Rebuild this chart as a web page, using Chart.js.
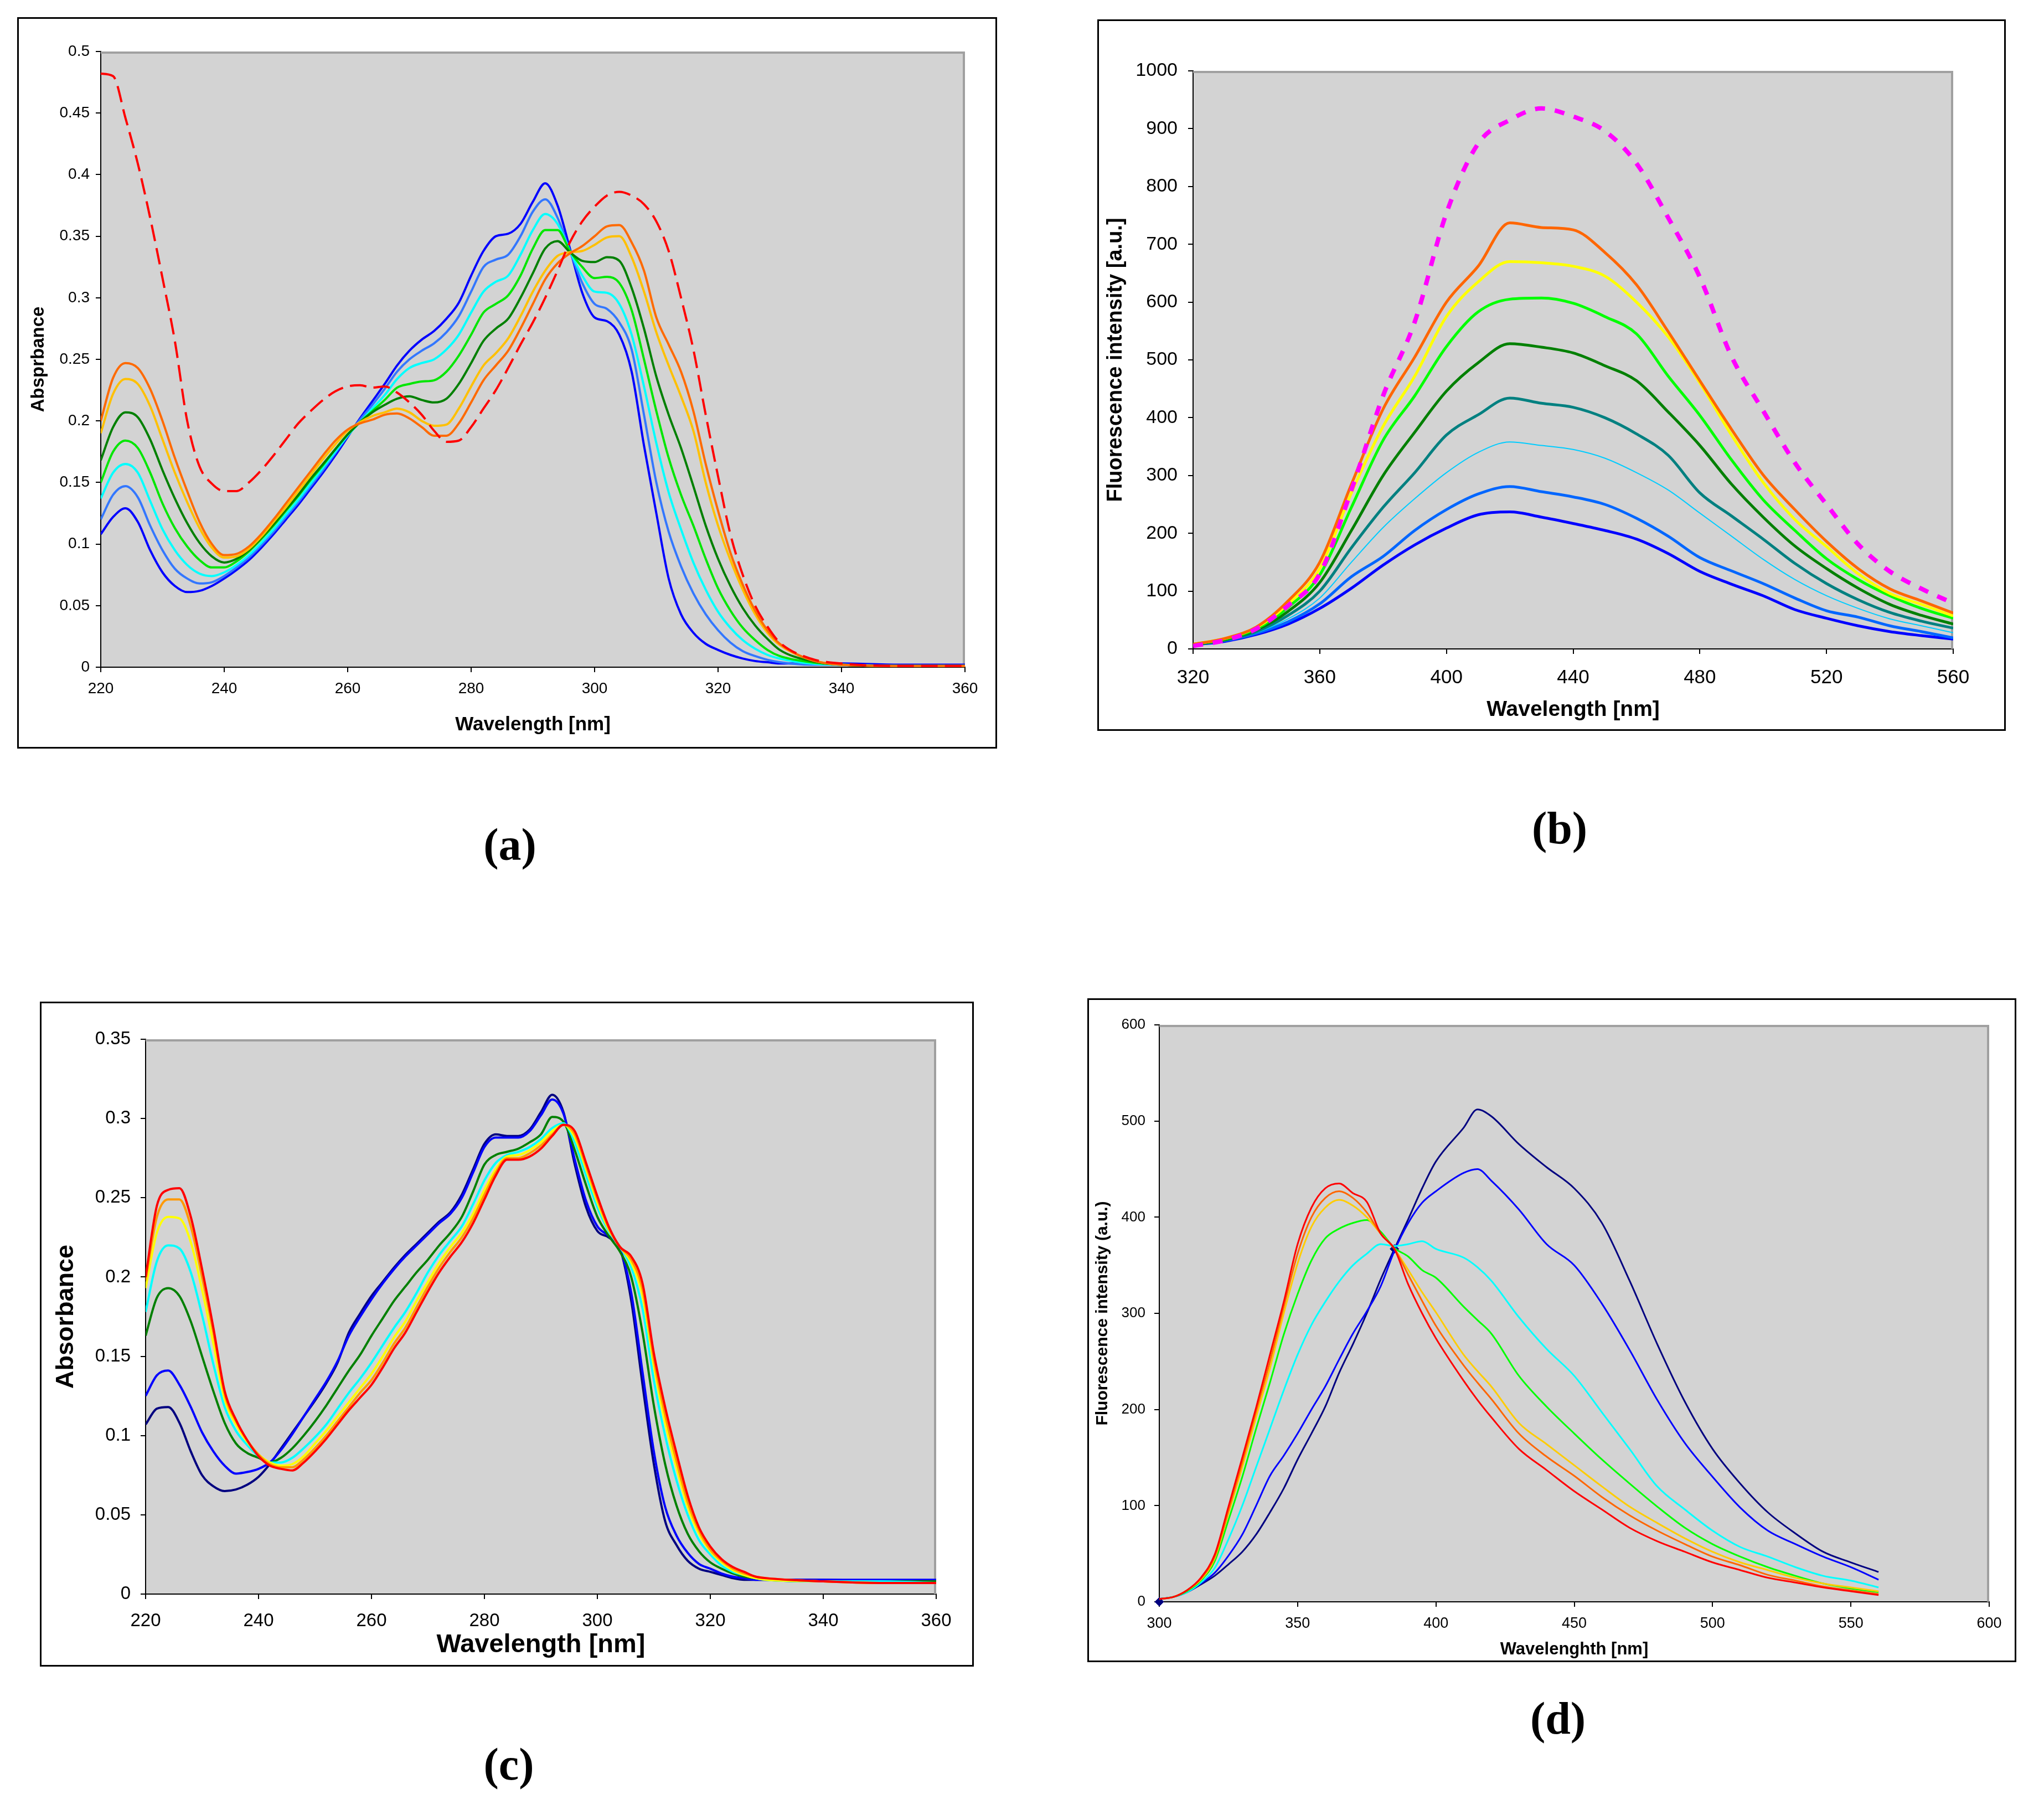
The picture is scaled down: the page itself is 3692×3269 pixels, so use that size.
<!DOCTYPE html>
<html>
<head>
<meta charset="utf-8">
<script src="https://cdn.jsdelivr.net/npm/chart.js@4.4.1/dist/chart.umd.min.js"></script>
<style>
  body { margin: 0; background: #fff; width: 3692px; height: 3269px; position: relative; overflow: hidden; }
  .panel { position: absolute; }
  .tag { position: absolute; font: bold 82px "Liberation Serif", serif; line-height: 1; transform: translate(-50%, -50%); color: #000; }
</style>
</head>
<body>
<div class="panel" style="left:31px;top:31px"><canvas id="chartA"></canvas></div>
<div class="panel" style="left:1982px;top:35px"><canvas id="chartB"></canvas></div>
<div class="panel" style="left:72px;top:1809px"><canvas id="chartC"></canvas></div>
<div class="panel" style="left:1964px;top:1803px"><canvas id="chartD"></canvas></div>
<div class="tag" style="left:921px;top:1526px">(a)</div>
<div class="tag" style="left:2817px;top:1496px">(b)</div>
<div class="tag" style="left:919px;top:3187px">(c)</div>
<div class="tag" style="left:2814px;top:3104px">(d)</div>
<script>
// (a) absorbance, 220-360 nm
const aWl = [220,222,224,226,228,230,232,234,236,238,240,242,244,246,248,250,252,254,256,258,
  260,262,264,266,268,270,272,274,276,278,280,282,284,286,288,290,292,294,296,298,
  300,302,304,306,308,310,312,314,316,318,320,322,324,326,328,330,335,340,350,360];
const aBlue = [.108,.122,.129,.118,.095,.077,.066,.061,.062,.066,.072,.079,.087,.097,.108,.120,.132,.145,.158,.172,
  .187,.202,.216,.230,.245,.257,.266,.273,.283,.296,.318,.338,.350,.352,.360,.378,.393,.375,.340,.304,
  .284,.281,.270,.240,.180,.125,.072,.043,.028,.019,.014,.010,.007,.005,.004,.003,.003,.003,.002,.002];
const aLightBlue = [.120,.140,.147,.138,.115,.095,.080,.072,.068,.069,.074,.081,.089,.099,.110,.122,.134,.147,.160,.174,
  .188,.201,.213,.226,.240,.250,.257,.263,.272,.285,.305,.325,.331,.335,.350,.370,.380,.365,.338,.312,
  .295,.291,.280,.258,.205,.150,.110,.082,.060,.043,.030,.020,.013,.009,.006,.004,.002,.002,.001,.001];
const aCyan = [.137,.158,.165,.158,.135,.112,.095,.083,.076,.074,.077,.083,.091,.101,.112,.124,.136,.149,.162,.175,
  .188,.199,.210,.221,.234,.243,.247,.250,.258,.270,.288,.305,.313,.318,.335,.355,.368,.360,.338,.318,
  .305,.304,.295,.270,.228,.182,.142,.112,.085,.063,.045,.032,.022,.015,.010,.007,.003,.002,.001,.001];
const aGreen = [.150,.175,.184,.178,.158,.133,.113,.098,.087,.081,.081,.086,.094,.104,.115,.127,.139,.152,.164,.177,
  .189,.199,.208,.217,.227,.230,.232,.233,.240,.253,.270,.288,.295,.302,.318,.340,.355,.355,.338,.325,
  .316,.317,.312,.290,.250,.208,.170,.140,.115,.088,.064,.046,.032,.022,.014,.009,.004,.002,.001,.001];
const aDarkGreen = [.168,.195,.207,.203,.185,.160,.137,.117,.101,.090,.085,.088,.095,.105,.116,.128,.140,.153,.165,.177,
  .189,.199,.207,.213,.218,.220,.217,.215,.218,.230,.247,.265,.275,.283,.300,.320,.340,.346,.337,.330,
  .329,.333,.330,.308,.275,.236,.205,.178,.147,.115,.088,.066,.048,.034,.023,.014,.005,.002,.001,.001];
const aAmber = [.190,.222,.234,.230,.212,.185,.158,.134,.113,.097,.089,.090,.096,.106,.118,.130,.143,.156,.169,.181,
  .192,.199,.204,.207,.210,.207,.200,.196,.197,.210,.228,.245,.255,.267,.285,.305,.322,.334,.337,.338,
  .343,.349,.350,.333,.305,.272,.245,.220,.192,.150,.115,.087,.063,.043,.028,.018,.006,.002,.001,.001];
const aOrange = [.200,.235,.247,.243,.226,.200,.170,.143,.118,.100,.091,.092,.098,.108,.120,.133,.146,.159,.172,.184,
  .193,.198,.201,.205,.206,.202,.195,.188,.188,.198,.215,.233,.245,.257,.275,.295,.315,.328,.336,.342,
  .350,.358,.359,.345,.322,.284,.262,.240,.208,.165,.127,.093,.067,.046,.030,.019,.006,.002,.001,.001];
const aRed = [.482,.480,.446,.409,.365,.316,.265,.200,.163,.149,.143,.143,.150,.160,.172,.185,.198,.208,.217,.224,
  .228,.229,.227,.228,.223,.215,.205,.192,.183,.184,.195,.210,.225,.243,.262,.280,.300,.322,.345,.362,
  .374,.383,.386,.383,.376,.362,.338,.300,.258,.205,.155,.108,.075,.050,.033,.020,.007,.003,.001,.001];

// (b) fluorescence, 320-560 nm
const bWl = [320,330,340,350,360,370,380,390,400,410,420,430,440,450,460,470,480,490,500,510,520,530,540,550,560];
const bPink = [5,15,35,75,130,275,438,566,754,874,915,935,921,896,840,746,643,506,412,322,250,181,134,104,79];
const bOrange = [8,18,38,83,150,285,415,505,600,662,737,729,725,686,630,549,464,380,301,241,186,139,104,83,62];
const bYellow = [8,18,37,78,139,270,385,472,575,635,670,668,662,645,600,540,460,370,288,224,177,130,96,77,57];
const bGreen = [8,17,35,72,128,245,361,438,523,583,605,607,598,575,545,472,404,327,258,205,156,120,92,70,53];
const bDarkGreen = [8,16,33,65,115,205,300,375,446,495,528,522,512,490,464,410,352,285,228,178,139,105,77,58,43];
const bTeal = [7,15,30,58,100,175,245,305,370,405,434,425,418,400,372,335,270,230,190,148,113,85,63,48,36];
const bSky = [7,14,28,52,88,150,210,260,305,340,358,352,345,330,305,275,235,195,155,120,92,70,52,40,28];
const bBlue = [7,14,27,47,78,125,160,205,241,268,281,272,263,250,226,195,158,135,113,88,66,55,40,30,19];
const bNavy = [7,13,25,43,70,105,145,180,209,232,237,228,217,205,190,165,134,112,92,68,53,40,30,23,17];

// (c) absorbance, 220-360 nm
const cWl = [220,222,224,226,228,230,232,234,236,238,240,242,244,246,248,250,252,254,256,258,
  260,262,264,266,268,270,272,274,276,278,280,282,284,286,288,290,292,294,296,298,
  300,302,304,306,308,310,312,314,316,318,320,322,324,326,328,330,340,350,360];
const cNavy = [.107,.117,.118,.108,.090,.075,.068,.065,.066,.069,.074,.082,.092,.102,.112,.122,.133,.146,.165,.177,
  .188,.197,.206,.214,.221,.228,.235,.241,.252,.268,.284,.290,.289,.289,.293,.304,.315,.304,.271,.244,
  .229,.225,.218,.185,.132,.082,.046,.031,.021,.016,.014,.012,.010,.009,.009,.009,.009,.008,.008];
const cBlue = [.125,.138,.141,.132,.118,.102,.090,.081,.076,.077,.079,.083,.091,.101,.112,.123,.134,.147,.163,.175,
  .186,.196,.205,.213,.220,.227,.234,.240,.250,.266,.282,.288,.288,.288,.292,.302,.312,.303,.274,.248,
  .232,.226,.218,.190,.140,.090,.055,.037,.026,.019,.016,.013,.011,.010,.009,.009,.009,.009,.009];
const cDarkGreen = [.163,.187,.193,.188,.172,.150,.128,.108,.095,.089,.086,.083,.086,.092,.100,.109,.119,.130,.141,.151,
  .163,.174,.185,.194,.203,.211,.220,.228,.238,.254,.271,.277,.279,.281,.285,.290,.301,.298,.280,.258,
  .238,.226,.216,.200,.165,.119,.082,.056,.038,.027,.020,.016,.013,.011,.010,.009,.008,.008,.008];
const cCyan = [.178,.210,.220,.218,.203,.176,.145,.118,.103,.094,.087,.083,.083,.086,.092,.099,.107,.117,.127,.136,
  .146,.157,.168,.178,.190,.203,.214,.223,.232,.246,.261,.272,.277,.279,.282,.287,.294,.297,.285,.264,
  .244,.229,.219,.206,.180,.135,.100,.072,.050,.034,.025,.018,.014,.012,.010,.009,.008,.008,.007];
const cYellow = [.193,.228,.238,.237,.222,.192,.158,.123,.107,.096,.088,.083,.081,.082,.087,.095,.103,.112,.121,.130,
  .139,.150,.162,.172,.185,.197,.209,.219,.228,.240,.255,.268,.276,.277,.280,.285,.292,.296,.288,.268,
  .247,.230,.219,.209,.188,.144,.108,.080,.055,.038,.027,.020,.015,.012,.010,.009,.008,.007,.007];
const cOrange = [.198,.238,.249,.249,.232,.200,.165,.126,.109,.097,.088,.082,.080,.080,.085,.092,.100,.109,.118,.127,
  .135,.146,.158,.168,.181,.194,.206,.216,.225,.237,.252,.266,.275,.275,.278,.283,.290,.296,.290,.270,
  .249,.231,.219,.211,.192,.148,.113,.084,.058,.040,.028,.021,.016,.013,.011,.010,.008,.007,.007];
const cRed = [.200,.245,.255,.256,.238,.205,.168,.128,.110,.097,.087,.081,.079,.078,.083,.090,.098,.107,.116,.124,
  .132,.143,.155,.165,.178,.191,.203,.213,.222,.234,.249,.264,.274,.274,.276,.281,.289,.296,.292,.272,
  .251,.232,.219,.213,.196,.152,.118,.089,.062,.042,.030,.022,.017,.014,.011,.010,.008,.007,.007];

// (d) fluorescence, 300-560 nm
const dWl = [300,305,310,315,320,325,330,335,340,345,350,355,360,365,370,375,380,385,390,395,
  400,410,415,420,430,440,450,460,470,480,490,500,510,520,530,540,550,560];
const dNavy = [3,5,10,18,27,39,52,70,93,118,148,175,203,238,268,300,335,367,398,430,
  458,493,512,505,476,452,430,394,334,268,208,159,123,93,71,52,41,31];
const dBlue = [3,5,10,19,30,48,70,100,131,152,175,200,224,252,279,302,328,365,394,415,
  427,446,450,438,408,372,350,310,262,210,165,130,98,74,60,47,36,23];
const dCyan = [3,5,10,20,35,65,100,140,180,220,257,288,312,333,350,362,372,370,372,375,
  367,358,348,334,296,263,235,197,159,120,96,74,57,47,36,27,22,15];
const dGreen = [3,5,11,22,42,85,130,180,228,278,320,355,378,388,394,397,385,368,359,345,
  337,307,293,279,235,203,175,148,123,99,77,60,47,36,27,19,14,10];
const dAmber = [3,5,12,23,45,92,140,192,243,300,352,390,410,418,412,400,383,367,345,322,
  301,257,240,224,186,164,142,120,99,82,66,52,41,33,25,19,15,11];
const dOrange = [3,5,12,24,47,95,145,198,250,307,362,400,420,427,420,405,383,367,340,313,
  287,246,228,211,175,151,131,109,90,74,60,47,38,28,22,16,12,8];
const dRed = [3,5,12,25,49,99,150,202,257,312,372,410,430,435,425,416,383,367,330,300,
  274,230,210,192,159,137,115,96,77,63,52,41,33,25,20,15,11,7];
const dMarkX = [300, 385];
const dMarkY = [0, 367];

const F = '"Liberation Sans", Arial, sans-serif';

const pts = (xs, ys) => xs.map((x, i) => ({ x, y: ys[i] }));

function line(xs, ys, color, width, dash) {
  return {
    data: pts(xs, ys),
    borderColor: color,
    borderWidth: width,
    borderDash: dash || [],
    borderCapStyle: 'butt',
    pointRadius: 0,
    fill: false,
    cubicInterpolationMode: 'monotone'
  };
}

// grey plot area, black frame, grey top/right border like the Excel originals
const plotBox = {
  id: 'plotBox',
  beforeDraw(chart) {
    const { ctx, width, height, chartArea: { left, top, right, bottom } } = chart;
    ctx.save();
    ctx.fillStyle = '#fff';
    ctx.fillRect(0, 0, width, height);
    ctx.fillStyle = '#d3d3d3';
    ctx.fillRect(left, top, right - left, bottom - top);
    ctx.strokeStyle = '#000';
    ctx.lineWidth = 3;
    ctx.strokeRect(1.5, 1.5, width - 3, height - 3);
    ctx.restore();
  },
  beforeDatasetsDraw(chart) {
    const { ctx, chartArea: { left, top, right, bottom } } = chart;
    ctx.save();
    ctx.strokeStyle = '#a0a0a0';
    ctx.lineWidth = 4;
    ctx.beginPath();
    ctx.moveTo(left, top + 2);
    ctx.lineTo(right - 2, top + 2);
    ctx.lineTo(right - 2, bottom);
    ctx.stroke();
    ctx.restore();
  }
};

function makeChart(id, o, datasets) {
  const cv = document.getElementById(id);
  cv.width = o.w;
  cv.height = o.h;
  cv.style.width = o.w + 'px';
  cv.style.height = o.h + 'px';
  const tickGrid = { drawOnChartArea: false, drawTicks: true, tickLength: 9, color: '#000', lineWidth: 2 };
  return new Chart(cv, {
    type: 'line',
    data: { datasets },
    plugins: [plotBox],
    options: {
      responsive: false,
      animation: false,
      devicePixelRatio: 1,
      layout: { padding: { left: 0, top: o.padTop, right: o.padRight, bottom: 0 } },
      plugins: { legend: { display: false }, tooltip: { enabled: false } },
      scales: {
        x: {
          type: 'linear', min: o.xMin, max: o.xMax,
          ticks: { stepSize: o.xStep, autoSkip: false, maxRotation: 0, color: '#000',
            padding: o.xTickPad, font: { family: F, size: o.xTick }, callback: (v) => String(v) },
          grid: tickGrid,
          border: { color: '#000', width: 2 },
          title: { display: true, text: o.xTitle, color: '#000',
            font: { family: F, size: o.xTitleSize, weight: 'bold' }, padding: { top: 0, bottom: o.xTitlePad } },
          afterFit: (s) => { s.height = o.xH; }
        },
        y: {
          type: 'linear', min: o.yMin, max: o.yMax,
          ticks: { stepSize: o.yStep, autoSkip: false, color: '#000',
            padding: o.yTickPad, font: { family: F, size: o.yTick }, callback: (v) => String(+v.toFixed(2)) },
          grid: tickGrid,
          border: { color: '#000', width: 2 },
          title: { display: true, text: o.yTitle, color: '#000',
            font: { family: F, size: o.yTitleSize, weight: 'bold' }, padding: { top: o.yTitlePad, bottom: 0 } },
          afterFit: (s) => { s.width = o.yW; }
        }
      }
    }
  });
}

makeChart('chartA', {
  w: 1770, h: 1321, padTop: 62, padRight: 58, yW: 151, xH: 147,
  xMin: 220, xMax: 360, xStep: 20, yMin: 0, yMax: 0.5, yStep: 0.05,
  xTick: 28, yTick: 28, xTickPad: 13, yTickPad: 11,
  xTitle: 'Wavelength [nm]', xTitleSize: 35, xTitlePad: 22,
  yTitle: 'Absprbance', yTitleSize: 33, yTitlePad: 19
}, [
  line(aWl, aRed, '#ff0000', 4, [30, 13]),
  line(aWl, aOrange, '#ff6a00', 4),
  line(aWl, aAmber, '#ffc000', 4),
  line(aWl, aDarkGreen, '#008000', 4),
  line(aWl, aGreen, '#00e600', 4),
  line(aWl, aCyan, '#00ffff', 4),
  line(aWl, aLightBlue, '#3377ff', 4),
  line(aWl, aBlue, '#0000ff', 4)
]);

makeChart('chartB', {
  w: 1641, h: 1285, padTop: 93, padRight: 95, yW: 173, xH: 148,
  xMin: 320, xMax: 560, xStep: 40, yMin: 0, yMax: 1000, yStep: 100,
  xTick: 35, yTick: 34, xTickPad: 22, yTickPad: 19,
  xTitle: 'Wavelength [nm]', xTitleSize: 39, xTitlePad: 14,
  yTitle: 'Fluorescence intensity [a.u.]', yTitleSize: 38, yTitlePad: 11
}, [
  line(bWl, bPink, '#ff00ff', 8, [18, 18]),
  line(bWl, bOrange, '#ff6600', 5),
  line(bWl, bYellow, '#ffff00', 5),
  line(bWl, bGreen, '#00ff00', 5),
  line(bWl, bDarkGreen, '#008000', 5),
  line(bWl, bTeal, '#008080', 5),
  line(bWl, bSky, '#00ccff', 2),
  line(bWl, bBlue, '#0066ff', 5),
  line(bWl, bNavy, '#0000ff', 5)
]);

makeChart('chartC', {
  w: 1687, h: 1201, padTop: 68, padRight: 68, yW: 191, xH: 131,
  xMin: 220, xMax: 360, xStep: 20, yMin: 0, yMax: 0.35, yStep: 0.05,
  xTick: 33, yTick: 33, xTickPad: 20, yTickPad: 18,
  xTitle: 'Wavelength [nm]', xTitleSize: 47, xTitlePad: 11,
  yTitle: 'Absorbance', yTitleSize: 45, yTitlePad: 21
}, [
  line(cWl, cRed, '#ff0000', 4),
  line(cWl, cOrange, '#ff9900', 4),
  line(cWl, cYellow, '#ffff00', 4),
  line(cWl, cCyan, '#00ffff', 4),
  line(cWl, cDarkGreen, '#008000', 4),
  line(cWl, cBlue, '#0000ff', 4),
  line(cWl, cNavy, '#000080', 4)
]);

makeChart('chartD', {
  w: 1678, h: 1199, padTop: 48, padRight: 49, yW: 130, xH: 109,
  xMin: 300, xMax: 600, xStep: 50, yMin: 0, yMax: 600, yStep: 100,
  xTick: 27, yTick: 26, xTickPad: 14, yTickPad: 16,
  xTitle: 'Wavelenghth [nm]', xTitleSize: 31, xTitlePad: 4,
  yTitle: 'Fluorescence intensity (a.u.)', yTitleSize: 30, yTitlePad: 10
}, [
  line(dWl, dRed, '#ff0000', 3),
  line(dWl, dOrange, '#ff6600', 3),
  line(dWl, dAmber, '#ffcc00', 3),
  line(dWl, dGreen, '#00ff00', 3),
  line(dWl, dCyan, '#00ffff', 3),
  line(dWl, dBlue, '#0000ff', 3),
  line(dWl, dNavy, '#000080', 3),
  { data: pts(dMarkX, dMarkY), showLine: false, pointStyle: 'rectRot', pointRadius: 8,
    pointBackgroundColor: '#000080', pointBorderColor: '#000080', clip: false }
]);
</script>
</body>
</html>
